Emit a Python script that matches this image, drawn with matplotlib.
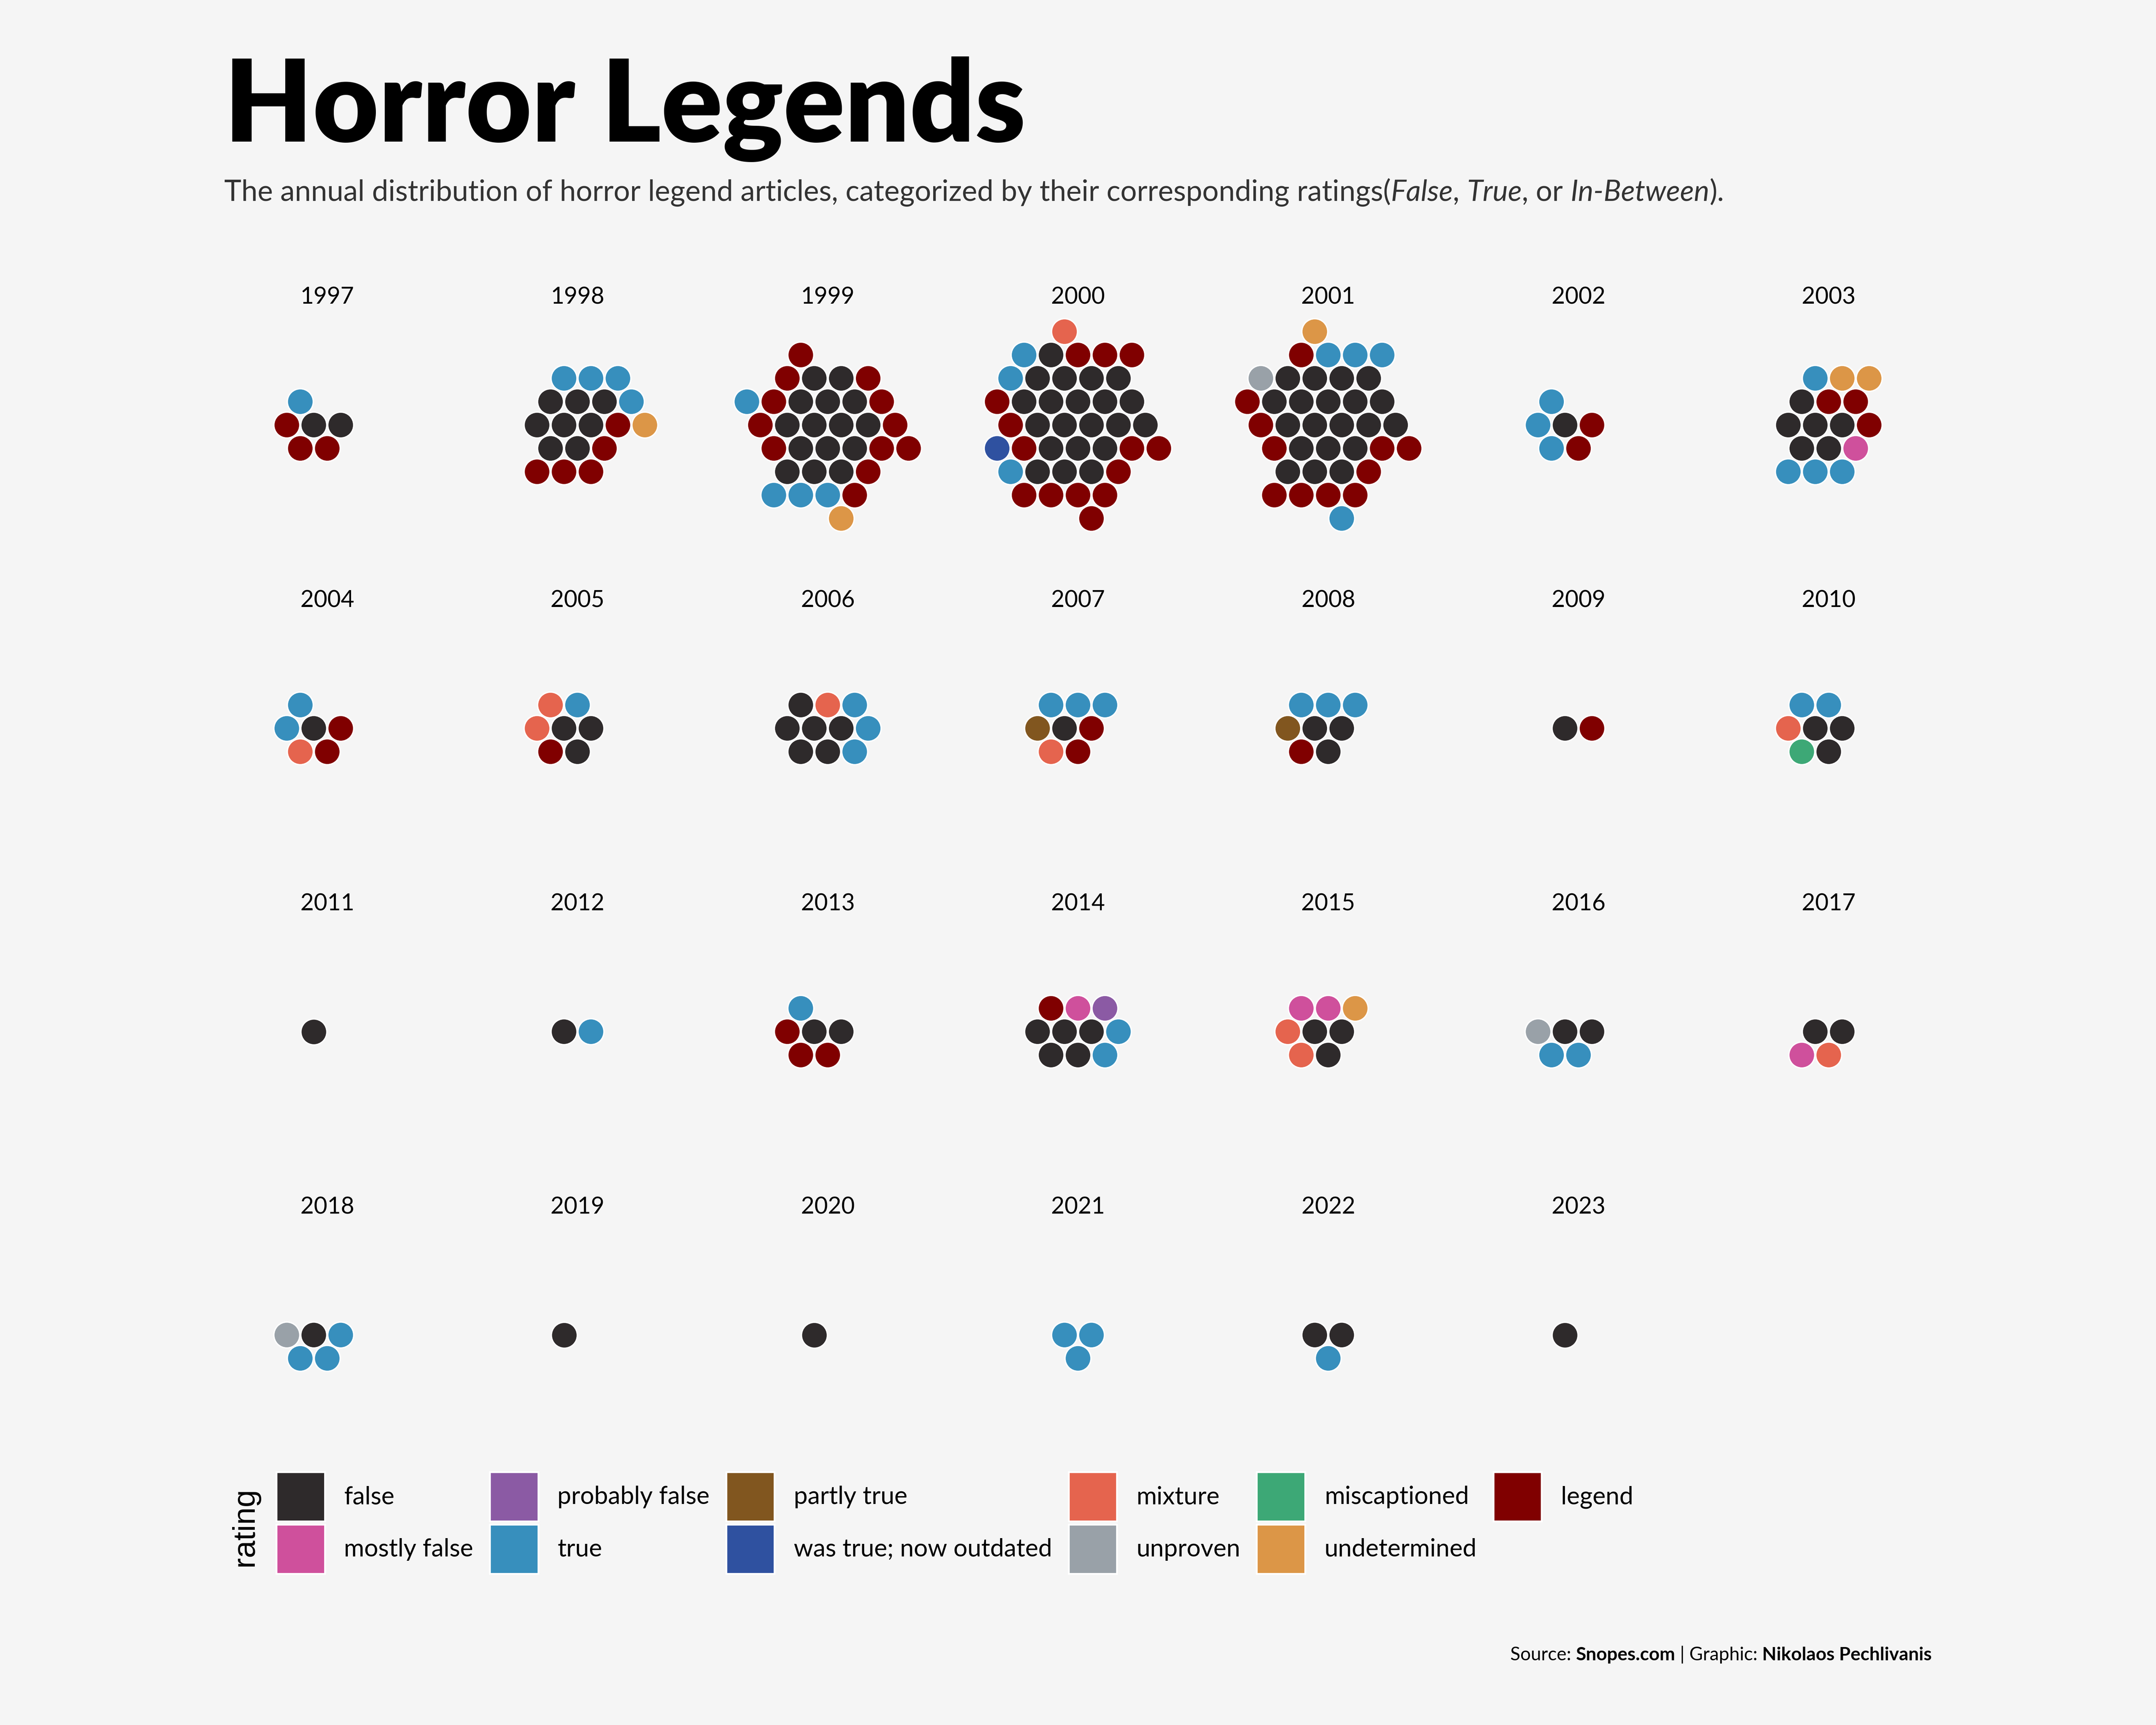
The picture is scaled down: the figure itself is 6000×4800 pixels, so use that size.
import numpy as np
import matplotlib
matplotlib.use("Agg")
import matplotlib.pyplot as plt
from matplotlib.patches import Patch

# ---------------- data ----------------
YEARS = list(range(1997, 2024))
RATINGS = ["false", "mostly false", "probably false", "true", "partly true",
           "was true; now outdated", "mixture", "unproven", "miscaptioned",
           "undetermined", "legend"]
COLORS = ["#2e2a2b", "#cf509c", "#8b5aa4", "#378fbd", "#81561f",
          "#2f51a0", "#e5644e", "#99a1a8", "#3da876", "#dc9647", "#800000"]

# article counts per year (1997 ... 2023) for each rating
false_n          = [2, 8, 15, 21, 20, 1, 6, 1, 3, 6, 1, 3, 1, 3, 1, 1, 2, 5, 3, 2, 2, 1, 1, 1, 0, 2, 1]
mostly_false_n   = [0, 0, 0, 0, 0, 0, 1, 0, 0, 0, 0, 0, 0, 0, 0, 0, 0, 1, 2, 0, 1, 0, 0, 0, 0, 0, 0]
probably_false_n = [0, 0, 0, 0, 0, 0, 0, 0, 0, 0, 0, 0, 0, 0, 0, 0, 0, 1, 0, 0, 0, 0, 0, 0, 0, 0, 0]
true_n           = [1, 4, 4, 3, 4, 3, 4, 2, 1, 3, 3, 3, 0, 2, 0, 1, 1, 2, 0, 2, 0, 3, 0, 0, 3, 1, 0]
partly_true_n    = [0, 0, 0, 0, 0, 0, 0, 0, 0, 0, 1, 1, 0, 0, 0, 0, 0, 0, 0, 0, 0, 0, 0, 0, 0, 0, 0]
was_true_n       = [0, 0, 0, 1, 0, 0, 0, 0, 0, 0, 0, 0, 0, 0, 0, 0, 0, 0, 0, 0, 0, 0, 0, 0, 0, 0, 0]
mixture_n        = [0, 0, 0, 1, 0, 0, 0, 1, 2, 1, 1, 0, 0, 1, 0, 0, 0, 0, 2, 0, 1, 0, 0, 0, 0, 0, 0]
unproven_n       = [0, 0, 0, 0, 1, 0, 0, 0, 0, 0, 0, 0, 0, 0, 0, 0, 0, 0, 0, 1, 0, 1, 0, 0, 0, 0, 0]
miscaptioned_n   = [0, 0, 0, 0, 0, 0, 0, 0, 0, 0, 0, 0, 0, 1, 0, 0, 0, 0, 0, 0, 0, 0, 0, 0, 0, 0, 0]
undetermined_n   = [0, 1, 1, 0, 1, 0, 2, 0, 0, 0, 0, 0, 0, 0, 0, 0, 0, 0, 1, 0, 0, 0, 0, 0, 0, 0, 0]
legend_n         = [3, 5, 12, 14, 11, 2, 3, 2, 1, 0, 2, 1, 1, 0, 0, 0, 3, 1, 0, 0, 0, 0, 0, 0, 0, 0, 0]

COUNTS = dict(zip(RATINGS, [false_n, mostly_false_n, probably_false_n, true_n, partly_true_n,
                            was_true_n, mixture_n, unproven_n, miscaptioned_n,
                            undetermined_n, legend_n]))
COLOR_OF = dict(zip(RATINGS, COLORS))

BG = "#f5f5f5"
FONT = "Lato"


# ------------- circle packing (front-chain progressive layout) -------------
def pack(n, r=0.5):
    xs = [0.0] * n
    ys = [0.0] * n
    if n == 0:
        return xs, ys
    xs[0] = -r
    if n == 1:
        return xs, ys
    xs[1] = r
    if n == 2:
        return xs, ys
    nxt = list(range(n))
    prv = list(range(n))

    def place(a, b, c):
        dx, dy = xs[b] - xs[a], ys[b] - ys[a]
        da2 = (2 * r) ** 2
        db2 = (2 * r) ** 2
        dc = dx * dx + dy * dy
        x = 0.5 + (db2 - da2) / (2 * dc)
        y = np.sqrt(max(0.0, 2 * da2 * (db2 + dc) - (db2 - dc) ** 2 - da2 * da2)) / (2 * dc)
        xs[c] = xs[a] + x * dx + y * dy
        ys[c] = ys[a] + x * dy - y * dx

    def hits(a, c):
        dx, dy = xs[c] - xs[a], ys[c] - ys[a]
        return 0.999 * (2 * r) ** 2 > dx * dx + dy * dy

    def insert(a, b):
        c = nxt[a]
        nxt[a] = b
        prv[b] = a
        nxt[b] = c
        prv[c] = b

    def splice(a, b):
        nxt[a] = b
        prv[b] = a

    def dist(k):
        return np.hypot(xs[k], ys[k])

    a, b = 0, 1
    place(a, b, 2)
    insert(a, 2)
    prv[a] = 2
    insert(2, b)
    b = nxt[a]
    i = 3
    guard = 0
    while i < n and guard < 20000:
        guard += 1
        c = i
        place(a, b, c)
        isect = False
        s1 = s2 = 1
        j = nxt[b]
        while j != b:
            if hits(j, c):
                isect = True
                break
            j = nxt[j]
            s1 += 1
        if isect:
            k = prv[a]
            while k != prv[j]:
                if hits(k, c):
                    break
                k = prv[k]
                s2 += 1
            if s1 < s2:
                b = j
                splice(a, b)
            else:
                a = k
                splice(a, b)
        else:
            insert(a, c)
            i += 1
            # next anchor: front-chain circle closest to the origin
            best, bd = a, dist(a)
            k = nxt[a]
            while k != a:
                dk = dist(k)
                if dk < bd - 1e-9:
                    best, bd = k, dk
                k = nxt[k]
            a = best
            b = nxt[a]
    return xs, ys


# ---------------- figure ----------------
fig = plt.figure(figsize=(20, 16), dpi=300, facecolor=BG)

W, H = 1568.0, 1254.0
ncol = 7
col_x0, col_dx = 238.0, 182.0
row_y0, row_dy = 309.0, 220.5
unit = 19.6
half_w = col_dx / unit / 2
half_h = row_dy / unit / 2
alpha_order = sorted(RATINGS)

for idx, year in enumerate(YEARS):
    r_, c_ = divmod(idx, ncol)
    cx = (col_x0 + col_dx * c_) / W
    cy = 1 - (row_y0 + row_dy * r_) / H
    ax = fig.add_axes([cx - col_dx / W / 2, cy - row_dy / H / 2, col_dx / W, row_dy / H])
    ax.set_xlim(-half_w, half_w)
    ax.set_ylim(-half_h, half_h)
    ax.axis("off")
    seq = []
    for rt in alpha_order:
        seq += [rt] * COUNTS[rt][idx]
    xs, ys = pack(len(seq))
    if seq:
        ax.scatter(xs, ys, s=300, c=[COLOR_OF[s] for s in seq],
                   edgecolors="white", linewidths=0.9, zorder=3)
    ax.text(0, 93 / unit, str(year), ha="center", va="center",
            fontsize=15.5, family=FONT, color="black")

# ---------------- titles ----------------
fig.text(163 / W, 1 - 103 / H, "Horror Legends", fontsize=76, weight="heavy",
         family=FONT, color="black", va="baseline", ha="left")

renderer = fig.canvas.get_renderer()


def text_width(s, **kw):
    t1 = fig.text(0, 0, "|" + s + "|", **kw)
    t2 = fig.text(0, 0, "||", **kw)
    w = t1.get_window_extent(renderer).width - t2.get_window_extent(renderer).width
    t1.remove()
    t2.remove()
    return w / fig.bbox.width


def rich(x, y, parts, ha="left", **base):
    widths = []
    for s, st, wt in parts:
        widths.append(text_width(s, style=st, weight=wt, **base))
    total = sum(widths)
    cur = x - total if ha == "right" else x
    for (s, st, wt), w in zip(parts, widths):
        fig.text(cur, y, s, style=st, weight=wt, va="baseline", ha="left", **base)
        cur += w


rich(163 / W, 1 - 146 / H,
     [("The annual distribution of horror legend articles, categorized by their corresponding ratings(", "normal", "normal"),
      ("False", "italic", "normal"), (", ", "normal", "normal"),
      ("True", "italic", "normal"), (", or ", "normal", "normal"),
      ("In-Between", "italic", "normal"), (").", "normal", "normal")],
     fontsize=19.4, family=FONT, color="#333333")

rich(1405 / W, 1 - 1207 / H,
     [("Source: ", "normal", "normal"), ("Snopes.com", "normal", "bold"),
      (" | Graphic: ", "normal", "normal"), ("Nikolaos Pechlivanis", "normal", "bold")],
     ha="right", fontsize=12.4, family=FONT, color="black")

# ---------------- legend ----------------
handles = [Patch(facecolor=COLOR_OF[rt], edgecolor="white", linewidth=1.2) for rt in RATINGS]
LEG_FS = 16.5
fig.legend(handles, RATINGS, ncol=6, loc="upper left",
           bbox_to_anchor=(201 / W, 1 - 1070 / H), frameon=False,
           prop={"family": FONT, "size": LEG_FS},
           handlelength=32.3 / LEG_FS,
           handleheight=(33.0 / LEG_FS - 0.245) / 0.65,
           handletextpad=12.9 / LEG_FS, columnspacing=11.0 / LEG_FS,
           labelspacing=2.0 / LEG_FS, borderpad=0, borderaxespad=0)
fig.text(178 / W, 1 - 1110 / H, "rating", rotation=90, ha="center", va="center",
         fontsize=21, family="Liberation Sans", color="black")

fig.savefig("out.png", dpi=300, facecolor=BG)
